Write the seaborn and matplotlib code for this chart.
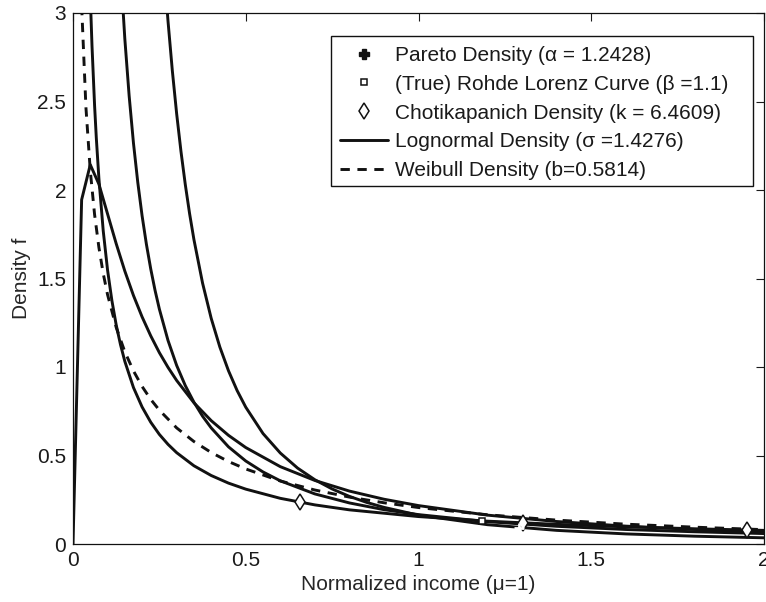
import matplotlib
matplotlib.use("Agg")
import matplotlib.pyplot as plt
import seaborn as sns
from matplotlib.lines import Line2D
from matplotlib.patches import Rectangle

# ---- data ----
logn_x = [0, 0.025, 0.05, 0.075, 0.1, 0.125, 0.15, 0.175, 0.2, 0.225, 0.25, 0.275, 0.3,
          0.35, 0.4, 0.45, 0.5, 0.6, 0.7, 0.8, 0.9, 1.0, 1.2, 1.4, 1.6, 1.8, 2.0]
logn_y = [0, 1.945, 2.143, 2.033, 1.865, 1.697, 1.542, 1.404, 1.283, 1.176, 1.081, 0.998,
          0.924, 0.798, 0.697, 0.614, 0.545, 0.437, 0.359, 0.299, 0.253, 0.217, 0.163,
          0.127, 0.101, 0.082, 0.068]

weib_x = [0.025, 0.0375, 0.05, 0.0625, 0.075, 0.0875, 0.1, 0.125, 0.15, 0.175, 0.2, 0.225,
          0.25, 0.3, 0.35, 0.4, 0.45, 0.5, 0.6, 0.7, 0.8, 0.9, 1.0, 1.2, 1.4, 1.6, 1.8, 2.0]
weib_y = [3.040, 2.464, 2.109, 1.861, 1.675, 1.528, 1.409, 1.224, 1.086, 0.978, 0.890,
          0.817, 0.756, 0.656, 0.579, 0.517, 0.466, 0.424, 0.356, 0.305, 0.265, 0.233,
          0.206, 0.165, 0.135, 0.112, 0.095, 0.081]

pareto_x = [0.2, 0.225, 0.25, 0.2625, 0.275, 0.2875, 0.3, 0.3125, 0.325, 0.3375, 0.35,
            0.375, 0.4, 0.425, 0.45, 0.475, 0.5, 0.55, 0.6, 0.65, 0.7, 0.75, 0.8, 0.85,
            0.9, 1.0, 1.2, 1.4, 1.6, 1.8, 2.0]
pareto_y = [6.034, 4.634, 3.658, 3.279, 2.954, 2.674, 2.431, 2.218, 2.031, 1.866, 1.720,
            1.474, 1.275, 1.113, 0.979, 0.867, 0.773, 0.624, 0.514, 0.429, 0.363, 0.311,
            0.269, 0.235, 0.207, 0.163, 0.109, 0.077, 0.057, 0.044, 0.035]

rohde_x = [0.1, 0.1125, 0.125, 0.1375, 0.15, 0.1625, 0.175, 0.1875, 0.2, 0.2125, 0.225,
           0.2375, 0.25, 0.275, 0.3, 0.325, 0.35, 0.375, 0.4, 0.45, 0.5, 0.55, 0.6, 0.7,
           0.8, 0.9, 1.0, 1.2, 1.4, 1.6, 1.8, 2.0]
rohde_y = [5.244, 4.395, 3.752, 3.253, 2.854, 2.532, 2.265, 2.043, 1.854, 1.693, 1.554,
           1.433, 1.327, 1.150, 1.009, 0.895, 0.801, 0.722, 0.656, 0.549, 0.469, 0.407,
           0.357, 0.283, 0.232, 0.194, 0.166, 0.126, 0.100, 0.082, 0.069, 0.059]

chot_x = [0.04, 0.05, 0.055, 0.0625, 0.0675, 0.075, 0.0875, 0.1, 0.1125, 0.125, 0.1375,
          0.15, 0.175, 0.2, 0.225, 0.25, 0.275, 0.3, 0.35, 0.4, 0.45, 0.5, 0.6, 0.7, 0.8,
          1.0, 1.2, 1.4, 1.6, 1.8, 2.0]
chot_y = [3.869, 3.096, 2.814, 2.476, 2.293, 2.064, 1.769, 1.548, 1.376, 1.238, 1.126,
          1.032, 0.884, 0.774, 0.688, 0.619, 0.563, 0.516, 0.442, 0.387, 0.344, 0.310,
          0.258, 0.221, 0.193, 0.155, 0.129, 0.111, 0.097, 0.086, 0.077]

pareto_mark_x = [1.29]
pareto_mark_y = [0.092]
rohde_mark_x = [1.185]
rohde_mark_y = [0.128]
chot_mark_x = [0.658, 1.303, 1.951]
chot_mark_y = [0.235, 0.119, 0.079]

legend_labels = [
    "Pareto Density (\u03b1 = 1.2428)",
    "(True) Rohde Lorenz Curve (\u03b2 =1.1)",
    "Chotikapanich Density (k = 6.4609)",
    "Lognormal Density (\u03c3 =1.4276)",
    "Weibull Density (b=0.5814)",
]
xtick_vals = [0, 0.5, 1, 1.5, 2]
xtick_labels = ["0", "0.5", "1", "1.5", "2"]
ytick_vals = [0, 0.5, 1, 1.5, 2, 2.5, 3]
ytick_labels = ["0", "0.5", "1", "1.5", "2", "2.5", "3"]

# ---- style ----
sns.set_style("white")
plt.rcParams["font.family"] = ["Liberation Sans", "DejaVu Sans"]
plt.rcParams["font.size"] = 15
plt.rcParams["text.color"] = "#1a1a1a"

FS = 15
W, H = 766, 602
fig = plt.figure(figsize=(W / 100, H / 100), dpi=100)
ax = fig.add_axes([73 / W, 1 - 544 / H, (764 - 73) / W, (544 - 13) / H])

LW = 2.1
DASH = (3.2, 2.6)
INK = "#111111"

for xs, ys in [(pareto_x, pareto_y), (rohde_x, rohde_y), (chot_x, chot_y), (logn_x, logn_y)]:
    sns.lineplot(x=xs, y=ys, ax=ax, color=INK, linewidth=LW, sort=False, estimator=None)
sns.lineplot(x=weib_x, y=weib_y, ax=ax, color=INK, linewidth=LW, sort=False, estimator=None)
ax.lines[-1].set_dashes(DASH)

# markers
sns.lineplot(x=chot_mark_x, y=chot_mark_y, ax=ax, marker="d", markersize=8,
             markerfacecolor="white", markeredgecolor=INK, markeredgewidth=1.1,
             linestyle="none", estimator=None, sort=False)
sns.lineplot(x=rohde_mark_x, y=rohde_mark_y, ax=ax, marker="s", markersize=5,
             markerfacecolor="white", markeredgecolor=INK, markeredgewidth=1.1,
             linestyle="none", estimator=None, sort=False)
sns.lineplot(x=pareto_mark_x, y=pareto_mark_y, ax=ax, marker="+", markersize=7,
             color=INK, markeredgewidth=2, linestyle="none", estimator=None, sort=False)

ax.set_xlim(0, 2)
ax.set_ylim(0, 3)
ax.set_xticks(xtick_vals)
ax.set_xticklabels(xtick_labels)
ax.set_yticks(ytick_vals)
ax.set_yticklabels(ytick_labels)
ax.tick_params(direction="in", length=6, width=0.8, top=True, right=True,
               labelsize=FS, colors="#1a1a1a", pad=5)
for s in ax.spines.values():
    s.set_visible(True)
    s.set_color("#111111")
    s.set_linewidth(0.9)

ax.set_xlabel("Normalized income (\u03bc=1)", fontsize=FS, labelpad=4)
ax.set_ylabel("Density f", fontsize=FS, labelpad=4)

handles = [
    Line2D([], [], linestyle="none", marker="P", markersize=7, color=INK),
    Line2D([], [], linestyle="none", marker="s", markersize=5, markerfacecolor="white",
           markeredgecolor=INK, markeredgewidth=1.1),
    Line2D([], [], linestyle="none", marker="d", markersize=8, markerfacecolor="white",
           markeredgecolor=INK, markeredgewidth=1.1),
    Line2D([], [], color=INK, linewidth=LW),
    Line2D([], [], color=INK, linewidth=LW, dashes=DASH),
]
leg = ax.legend(handles, legend_labels, loc="upper left",
                bbox_to_anchor=(340 / W, 1 - 46 / H), bbox_transform=fig.transFigure,
                borderaxespad=0, borderpad=0, fontsize=FS, frameon=False,
                handlelength=2.3, handletextpad=0.33, labelspacing=0.47)
# legend frame (MATLAB style box)
frame = Rectangle((331 / W, 1 - 186 / H), (753 - 331) / W, (186 - 36) / H,
                  transform=fig.transFigure, facecolor="white", edgecolor=INK,
                  linewidth=1.0, zorder=4)
ax.add_artist(frame)
frame.set_clip_on(False)
leg.set_zorder(5)

fig.savefig("out.png", dpi=100)
